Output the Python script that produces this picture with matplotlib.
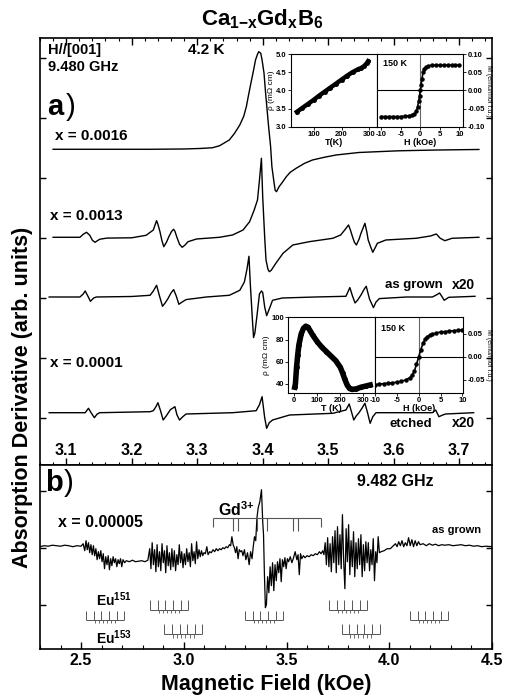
import matplotlib
matplotlib.use("Agg")
import matplotlib.pyplot as plt
from matplotlib.ticker import MultipleLocator, FormatStrFormatter
import numpy as np

plt.rcParams["font.family"] = ["Liberation Sans", "DejaVu Sans"]
plt.rcParams["font.weight"] = "bold"
plt.rcParams["axes.labelweight"] = "bold"
plt.rcParams["axes.unicode_minus"] = False
plt.rcParams["mathtext.fontset"] = "custom"
plt.rcParams["mathtext.rm"] = "Liberation Sans:bold"
plt.rcParams["mathtext.bf"] = "Liberation Sans:bold"
plt.rcParams["mathtext.it"] = "Liberation Sans:bold"

# ---------------- 数据: (a) 4.2 K 谱线 (磁场 kOe, 信号 arb.) ----------------
curve_0016 = [
    (3.080, 0.0), (3.150, 0.0), (3.228, 0.0), (3.280, 0.03), (3.304, 0.08), (3.323, 0.15),
    (3.334, 0.35), (3.349, 0.93), (3.357, 1.6), (3.365, 2.43), (3.371, 3.3), (3.375, 4.26),
    (3.378, 5.3), (3.382, 6.63), (3.386, 7.9), (3.389, 8.93), (3.392, 9.5), (3.394, 9.76),
    (3.397, 9.6), (3.399, 8.93), (3.402, 7.6), (3.404, 5.93), (3.407, 3.7), (3.409, 2.26),
    (3.412, 0.3), (3.414, -1.74), (3.417, -3.2), (3.419, -4.1), (3.421, -4.24), (3.425, -3.74),
    (3.430, -3.3), (3.436, -2.74), (3.442, -2.3), (3.451, -1.90), (3.464, -1.4), (3.476, -1.07),
    (3.494, -0.8), (3.512, -0.57), (3.547, -0.32), (3.608, -0.15), (3.669, -0.07), (3.730, -0.02),
]
curve_0013 = [
    (3.080, 0.0), (3.121, 0.0), (3.126, 0.3), (3.131, 0.5), (3.136, 0.2), (3.140, -0.3),
    (3.144, -0.5), (3.151, -0.2), (3.162, -0.08), (3.200, -0.05), (3.222, 0.2), (3.233, 0.73),
    (3.236, 1.3), (3.238, 1.66), (3.240, 1.3), (3.243, 0.6), (3.246, -0.3), (3.249, -0.94),
    (3.253, -0.5), (3.257, 0.1), (3.261, 0.6), (3.264, 0.8), (3.266, 0.6), (3.269, 0.0),
    (3.273, -0.7), (3.277, -1.0), (3.281, -0.8), (3.286, -0.44), (3.299, -0.17), (3.334, 0.0),
    (3.354, 0.23), (3.370, 0.73), (3.380, 1.56), (3.387, 2.73), (3.392, 3.73), (3.395, 5.7),
    (3.398, 7.9), (3.400, 4.0), (3.403, 0.0), (3.405, -2.27), (3.408, -3.2), (3.410, -3.44),
    (3.413, -3.3), (3.420, -2.6), (3.431, -1.6), (3.446, -0.77), (3.471, -0.44), (3.507, -0.1),
    (3.519, 0.23), (3.526, 0.8), (3.531, 1.23), (3.534, 0.7), (3.537, 0.06), (3.540, -0.5),
    (3.543, -0.77), (3.547, -0.2), (3.550, 0.4), (3.556, 1.4), (3.559, 0.5), (3.561, -0.27),
    (3.565, -1.0), (3.568, -1.5), (3.572, -1.0), (3.575, -0.6), (3.588, -0.27), (3.634, -0.1),
    (3.656, 0.13), (3.665, 0.33), (3.671, -0.1), (3.678, -0.34), (3.689, -0.1), (3.730, 0.0),
]
curve_grown = [
    (3.074, 0.0), (3.121, 0.0), (3.126, 0.3), (3.129, 0.6), (3.133, 0.1), (3.137, -0.43),
    (3.142, -0.1), (3.146, 0.0), (3.200, 0.05), (3.228, 0.17), (3.233, 0.6), (3.238, 1.17),
    (3.242, 0.2), (3.247, -0.93), (3.251, -0.6), (3.255, -0.2), (3.260, 0.4), (3.264, 0.74),
    (3.268, 0.1), (3.272, -0.73), (3.277, -0.5), (3.283, -0.26), (3.314, 0.0), (3.349, 0.17),
    (3.365, 0.67), (3.372, 1.5), (3.376, 2.8), (3.379, 4.07), (3.381, 1.37), (3.384, -2.0),
    (3.386, -4.06), (3.388, -3.6), (3.391, -2.0), (3.395, 0.3), (3.398, 0.6), (3.400, 0.45),
    (3.403, -1.0), (3.406, -1.87), (3.410, -1.2), (3.415, -0.33), (3.430, -0.1), (3.480, 0.0),
    (3.527, 0.07), (3.530, 0.5), (3.533, 0.94), (3.537, 0.1), (3.541, -0.6), (3.545, -0.3),
    (3.550, 0.2), (3.555, 0.8), (3.558, 1.07), (3.563, -0.2), (3.569, -1.06), (3.573, -0.5),
    (3.578, -0.16), (3.620, 0.0), (3.659, 0.0), (3.665, 0.2), (3.670, 0.4), (3.674, 0.0),
    (3.677, -0.33), (3.684, -0.03), (3.724, 0.07),
]
curve_etched = [
    (3.074, 0.0), (3.129, 0.0), (3.134, 0.44), (3.138, 0.0), (3.143, -0.5), (3.147, -0.15),
    (3.151, 0.0), (3.228, 0.1), (3.233, 0.2), (3.237, 0.6), (3.240, 1.0), (3.244, 0.2),
    (3.248, -0.73), (3.253, -0.3), (3.259, 0.3), (3.266, 0.6), (3.269, -0.2), (3.273, -0.73),
    (3.278, -0.4), (3.283, -0.13), (3.354, 0.0), (3.390, 0.2), (3.395, 0.8), (3.399, 1.6),
    (3.403, -0.5), (3.406, -1.56), (3.410, -1.0), (3.415, -0.73), (3.441, -0.23), (3.507, -0.06),
    (3.527, 0.27), (3.532, 0.87), (3.535, 0.2), (3.539, -0.73), (3.543, -0.3), (3.547, 0.0),
    (3.552, 0.5), (3.556, 0.94), (3.560, 0.0), (3.564, -1.06), (3.568, -0.4), (3.573, 0.0),
    (3.659, 0.0), (3.664, 0.27), (3.669, -0.4), (3.674, -0.25), (3.679, -0.13), (3.722, 0.0),
]
a_curves = [curve_0016, curve_0013, curve_grown, curve_etched]
a_offsets = [31.57, 22.77, 16.80, 5.23]
a_ticks = [3.1, 3.2, 3.3, 3.4, 3.5, 3.6, 3.7]

# ---------------- 数据: (b) x = 0.00005 谱线 ----------------
b_points = [
    (2.30, 0.0), (2.32, 0.1), (2.34, 0.05), (2.36, 0.15), (2.38, 0.1), (2.40, 0.05), (2.42, 0.15),
    (2.44, 0.1), (2.46, 0.0), (2.48, 0.1), (2.50, 0.05),
    (2.510, 0.3), (2.518, -0.4), (2.524, 0.6), (2.530, -0.3), (2.536, 0.4), (2.542, -0.6),
    (2.548, 0.2), (2.554, -0.8), (2.560, 0.1), (2.566, -0.9), (2.572, -0.2), (2.578, -1.3),
    (2.584, -0.5), (2.590, -1.2), (2.596, -0.4), (2.602, -1.5), (2.608, -0.7), (2.614, -2.2),
    (2.620, -1.0), (2.626, -1.8), (2.632, -0.9), (2.638, -2.3), (2.644, -1.2), (2.650, -1.9),
    (2.656, -1.0), (2.662, -1.6), (2.668, -1.2), (2.674, -2.0), (2.680, -1.3), (2.686, -1.7),
    (2.692, -1.2), (2.698, -2.0), (2.704, -1.3), (2.712, -1.6),
    (2.720, -1.4), (2.735, -1.5), (2.750, -1.35), (2.765, -1.5), (2.780, -1.45), (2.795, -1.4),
    (2.810, -1.5), (2.825, -1.35),
    (2.834, -0.2), (2.840, -2.2), (2.846, 0.4), (2.852, -1.8), (2.858, -0.3), (2.864, -2.5),
    (2.870, 0.2), (2.876, -2.0), (2.882, -0.5), (2.888, -2.4), (2.894, 0.3), (2.900, -1.6),
    (2.906, -0.4), (2.912, -2.6), (2.918, 0.1), (2.924, -1.9), (2.930, -0.6), (2.936, -2.3),
    (2.942, -0.2), (2.948, -2.0), (2.954, -0.4), (2.960, -2.4), (2.966, -0.8), (2.972, -1.8),
    (2.978, 0.2), (2.984, -1.6), (2.990, -0.5), (2.996, -2.1), (3.002, -0.7), (3.008, -1.8),
    (3.014, -0.2), (3.020, -1.5), (3.026, -0.6), (3.032, -2.0), (3.038, 0.3), (3.044, -1.4),
    (3.050, -0.5), (3.056, -1.7), (3.062, 0.5), (3.068, -1.2), (3.074, -0.3), (3.080, -1.0),
    (3.086, -0.4), (3.092, -0.9), (3.098, -0.6),
    (3.105, -0.7), (3.112, 0.0), (3.118, -0.8), (3.126, -0.5), (3.134, -0.6), (3.142, -0.3),
    (3.150, -0.5), (3.158, -0.2), (3.166, -0.4), (3.174, -0.2), (3.182, -0.3), (3.190, -0.1),
    (3.198, -0.2), (3.206, 0.0), (3.214, -0.1), (3.222, 0.2), (3.228, 0.1),
    (3.234, 1.0), (3.240, 0.2), (3.246, -0.1), (3.252, -0.6), (3.258, 0.0), (3.264, -1.2),
    (3.270, -0.3), (3.276, -0.5), (3.282, -0.4), (3.288, -0.9), (3.295, -0.3), (3.302, -1.3),
    (3.310, -0.6), (3.318, -1.8), (3.325, -0.5), (3.332, -1.2), (3.338, 0.0), (3.344, 1.0),
    (3.350, 0.6), (3.356, 2.9), (3.362, 3.9), (3.370, 4.5), (3.378, 5.7), (3.384, 2.5),
    (3.388, 1.2), (3.392, -2.5), (3.397, -6.1),
    (3.402, -5.8), (3.408, -3.0), (3.414, -4.6), (3.420, -2.0), (3.426, -3.9), (3.432, -1.6),
    (3.438, -4.4), (3.444, -1.8), (3.450, -3.4), (3.456, -1.5), (3.462, -2.6), (3.468, -1.2),
    (3.474, -3.5), (3.480, -1.3), (3.486, -2.0), (3.492, -1.1), (3.498, -2.2), (3.504, -1.2),
    (3.510, -1.5), (3.518, -1.0), (3.526, -1.6), (3.534, -1.1), (3.542, -0.5), (3.550, -1.3),
    (3.556, -0.8), (3.562, -2.8), (3.568, -0.7), (3.574, -1.2), (3.582, -0.9), (3.590, -1.1),
    (3.600, -0.9), (3.610, -1.0), (3.620, -0.8), (3.630, -0.9), (3.640, -0.7), (3.650, -0.8),
    (3.660, -0.5), (3.668, -0.7), (3.676, -0.4),
    (3.682, -0.8), (3.688, 0.4), (3.694, -1.8), (3.700, 0.9), (3.706, -2.0), (3.712, 0.3),
    (3.718, -2.5), (3.724, 1.0), (3.730, -1.6), (3.736, 1.6), (3.742, -2.6), (3.748, 2.0),
    (3.754, -1.8), (3.760, 1.2), (3.766, -2.2), (3.772, 3.2), (3.778, -1.4), (3.784, -4.2),
    (3.790, 1.8), (3.796, -1.5), (3.802, 2.2), (3.808, -2.8), (3.814, 0.6), (3.820, -2.0),
    (3.826, 1.5), (3.832, -3.0), (3.838, 0.4), (3.844, -2.2), (3.850, 0.8), (3.856, -1.8),
    (3.862, 1.2), (3.868, -3.0), (3.874, 0.2), (3.880, -2.4), (3.886, 0.5), (3.892, -1.6),
    (3.898, 0.4), (3.904, -2.4), (3.910, -0.3), (3.916, -1.8), (3.922, 0.8), (3.928, -3.4),
    (3.934, -0.5), (3.940, -1.6), (3.946, 1.0), (3.952, -0.6),
    (3.960, -0.5), (3.975, -0.4), (3.990, -0.2), (4.005, -0.2), (4.020, 0.1),
    (4.030, 0.3), (4.038, 0.0), (4.046, 0.5), (4.054, 0.1), (4.062, 0.6), (4.070, 0.0),
    (4.078, 0.4), (4.086, 0.1), (4.094, 0.9), (4.102, 0.1), (4.110, 0.7), (4.118, 0.0),
    (4.126, 0.6), (4.134, 0.1), (4.142, 0.5), (4.150, 0.2),
    (4.165, 0.3), (4.180, 0.1), (4.195, 0.3), (4.210, 0.15), (4.225, 0.25), (4.240, 0.1),
    (4.255, 0.2), (4.270, 0.15), (4.290, 0.2), (4.310, 0.1), (4.330, 0.15), (4.350, 0.2),
    (4.370, 0.1), (4.390, 0.15), (4.410, 0.05), (4.430, 0.1), (4.450, 0.0), (4.470, 0.05),
    (4.500, 0.0),
]
b_offset = 10.23
b_ticks = [2.5, 3.0, 3.5, 4.0, 4.5]

# Gd3+ 谱线位置 (kOe)
gd_span = (3.143, 3.666)
gd_lines = [3.238, 3.266, 3.354, 3.403, 3.530, 3.554]
# Eu 超精细六重线中心 (kOe)
eu_row_upper = [2.929, 3.800]
eu_row_mid = [2.617, 3.391, 4.194]
eu_row_lower = [2.998, 3.860]
eu_long = [-0.0925, -0.0555, -0.0185, 0.0185, 0.0555, 0.0925]
eu_short = [-0.05, -0.03, -0.01, 0.01, 0.03, 0.05]

# ---------------- 数据: 插图 ----------------
t_top = [40, 60, 80, 100, 120, 140, 160, 180, 200, 220, 240, 260, 270, 280, 290, 295]
rho_top = [3.41, 3.52, 3.63, 3.74, 3.86, 3.97, 4.08, 4.19, 4.30, 4.41, 4.51, 4.59, 4.62,
           4.67, 4.75, 4.81]
h_top = [-10, -9, -8, -7, -6, -5, -4, -3, -2, -1.5, -1, -0.7, -0.4, -0.2, 0, 0.2, 0.4, 0.7,
         1, 1.5, 2, 3, 4, 5, 6, 7, 8, 9, 10]
m_top = [-0.072, -0.072, -0.072, -0.072, -0.072, -0.072, -0.071, -0.070, -0.068, -0.065,
         -0.058, -0.045, -0.028, -0.014, 0.0, 0.016, 0.032, 0.050, 0.060, 0.066, 0.068,
         0.070, 0.070, 0.070, 0.070, 0.070, 0.070, 0.070, 0.070]

t_low = [2, 5, 10, 15, 20, 30, 40, 50, 60, 80, 100, 120, 140, 160, 180, 200, 210, 220, 230,
         240, 250, 270, 290, 310, 330]
rho_low = [37, 40, 55, 66, 75, 85, 90, 92, 91, 84, 78, 73, 69, 65, 61, 55, 50, 44, 39, 36,
           35, 35.5, 37, 38, 39]
h_low = [-10, -9, -8, -7, -6, -5, -4, -3, -2, -1.5, -1, -0.5, 0, 0.5, 1, 1.5, 2, 2.5, 3, 4,
         5, 6, 7, 8, 9, 10]
m_low = [-0.060, -0.059, -0.058, -0.057, -0.056, -0.055, -0.053, -0.050, -0.045, -0.040,
         -0.031, -0.016, 0.0, 0.016, 0.030, 0.039, 0.044, 0.047, 0.049, 0.052, 0.054,
         0.055, 0.056, 0.057, 0.058, 0.059]

# ====================== 绘图 ======================
fig = plt.figure(figsize=(5.16, 6.98), dpi=100)
ax_a = fig.add_axes([0.0775, 0.3338, 0.876, 0.6118])
ax_b = fig.add_axes([0.0775, 0.0702, 0.876, 0.2636])

# (a)
for pts, off in zip(a_curves, a_offsets):
    xs, ys = zip(*pts)
    ax_a.plot(xs, np.array(ys) + off, color="black", lw=1.0)
ax_a.set_xlim(3.06, 3.75)
ax_a.set_ylim(0, 42.7)
ax_a.set_xticks(a_ticks)
ax_a.xaxis.set_major_formatter(FormatStrFormatter("%.1f"))
ax_a.xaxis.set_minor_locator(MultipleLocator(0.02))
ax_a.set_yticks(np.arange(4.7, 42, 6.0))
ax_a.tick_params(axis="x", which="both", direction="in", top=True, labelsize=11.5, pad=-16)
ax_a.tick_params(axis="x", which="major", length=5, width=1)
ax_a.tick_params(axis="x", which="minor", length=2.5, width=0.8)
ax_a.tick_params(axis="y", direction="in", left=True, right=True, labelleft=False,
                 length=4, width=1)

ta = dict(transform=ax_a.transAxes, fontweight="bold", va="center")
ax_a.text(0.018, 0.972, "H//[001]", fontsize=10.5, **ta)
ax_a.text(0.018, 0.932, "9.480 GHz", fontsize=10.5, **ta)
ax_a.text(0.327, 0.972, "4.2 K", fontsize=11, **ta)
ax_a.text(0.015, 0.838, "a", fontsize=21, **ta)
ax_a.text(0.056, 0.838, ")", fontsize=21, transform=ax_a.transAxes, fontweight="normal",
          va="center")
ax_a.text(0.033, 0.770, "x = 0.0016", fontsize=11, **ta)
ax_a.text(0.022, 0.583, "x = 0.0013", fontsize=11, **ta)
ax_a.text(0.022, 0.239, "x = 0.0001", fontsize=11, **ta)
ax_a.text(0.763, 0.4215, "as grown", fontsize=9.5, **ta)
ax_a.text(0.962, 0.4215, "x20", fontsize=10, ha="right", transform=ax_a.transAxes,
          fontweight="bold", va="center")
ax_a.text(0.774, 0.096, "etched", fontsize=9.5, **ta)
ax_a.text(0.962, 0.098, "x20", fontsize=10, ha="right", transform=ax_a.transAxes,
          fontweight="bold", va="center")

# (b)
bx, by = zip(*b_points)
ax_b.plot(bx, np.array(by) + b_offset, color="black", lw=0.9)
ax_b.set_xlim(2.3, 4.5)
ax_b.set_ylim(0, 18.4)
ax_b.set_xticks(b_ticks)
ax_b.xaxis.set_major_formatter(FormatStrFormatter("%.1f"))
ax_b.xaxis.set_minor_locator(MultipleLocator(0.1))
ax_b.set_yticks([4.4, 10.1, 15.8])
ax_b.tick_params(axis="x", which="both", direction="in", top=False, labelsize=11.5, pad=3)
ax_b.tick_params(axis="x", which="major", length=5, width=1)
ax_b.tick_params(axis="x", which="minor", length=3, width=0.8)
ax_b.tick_params(axis="y", direction="in", left=True, right=True, labelleft=False,
                 length=4, width=1)
ax_b.set_xlabel("Magnetic Field (kOe)", fontsize=15.5, fontweight="bold", labelpad=4)

comb_color = "#555555"
# Gd3+ 梳
ax_b.hlines(13.07, gd_span[0], gd_span[1], color=comb_color, lw=0.8)
ax_b.vlines(list(gd_span), 12.23, 13.07, color=comb_color, lw=0.8)
ax_b.vlines(gd_lines, 11.8, 13.07, color=comb_color, lw=0.8)
ax_b.text(3.165, 13.9, "Gd$^{3{+}}$", fontsize=11.5, fontweight="bold", va="center")

# Eu 梳
for centers, base, top, low in [(eu_row_upper, 3.9, 4.9, 3.57),
                                (eu_row_mid, 2.9, 3.8, 2.57),
                                (eu_row_lower, 1.47, 2.47, 1.15)]:
    for c in centers:
        ax_b.hlines(base, c + eu_long[0], c + eu_long[-1], color=comb_color, lw=0.7)
        ax_b.vlines(c + np.array(eu_long), base, top, color=comb_color, lw=0.7)
        ax_b.vlines(c + np.array(eu_short), low, base, color=comb_color, lw=0.6)

tb = dict(transform=ax_b.transAxes, fontweight="bold", va="center")
ax_b.text(0.011, 0.902, "b", fontsize=21, **tb)
ax_b.text(0.052, 0.902, ")", fontsize=21, transform=ax_b.transAxes, fontweight="normal",
          va="center")
ax_b.text(0.701, 0.908, "9.482 GHz", fontsize=11.5, **tb)
ax_b.text(0.040, 0.690, "x = 0.00005", fontsize=11.5, **tb)
ax_b.text(0.868, 0.647, "as grown", fontsize=8, **tb)
ax_b.text(0.125, 0.270, "Eu$^{151}$", fontsize=10, **tb)
ax_b.text(0.125, 0.062, "Eu$^{153}$", fontsize=10, **tb)

# 纵轴标签与标题
fig.text(0.043, 0.43, "Absorption Derivative (arb. units)", rotation=90, fontsize=15.5,
         fontweight="bold", ha="center", va="center")
fig.text(0.508, 0.972, "Ca$_{1{-}x}$Gd$_{x}$B$_{6}$", fontsize=16, fontweight="bold",
         ha="center", va="center")


def style_inset(ax):
    ax.tick_params(labelsize=5.5, length=2, width=0.6, pad=1)
    for s in ax.spines.values():
        s.set_linewidth(0.8)


# 上插图
ax_t1 = fig.add_axes([0.5634, 0.8185, 0.1678, 0.1037])
ax_t1.plot(t_top, rho_top, color="black", lw=3.2, marker="o", ms=2.5)
ax_t1.set_xlim(18, 328)
ax_t1.set_ylim(3.0, 5.0)
ax_t1.set_xticks([100, 200, 300])
ax_t1.set_yticks([3.0, 3.5, 4.0, 4.5, 5.0])
ax_t1.yaxis.set_major_formatter(FormatStrFormatter("%.1f"))
ax_t1.set_xlabel("T(K)", fontsize=6.5, labelpad=0)
ax_t1.set_ylabel("ρ (mΩ cm)", fontsize=6, labelpad=1, fontweight="normal")
style_inset(ax_t1)

ax_t2 = fig.add_axes([0.7312, 0.8185, 0.1667, 0.1037])
ax_t2.axvline(0, color="#666666", lw=0.8)
ax_t2.axhline(0, color="black", lw=0.8)
ax_t2.plot(h_top, m_top, color="black", lw=1.2, marker="o", ms=2.2)
ax_t2.set_xlim(-11, 11)
ax_t2.set_ylim(-0.1, 0.1)
ax_t2.set_xticks([-10, -5, 0, 5, 10])
ax_t2.set_yticks([-0.10, -0.05, 0.0, 0.05, 0.10])
ax_t2.yaxis.set_major_formatter(FormatStrFormatter("%.2f"))
ax_t2.yaxis.tick_right()
ax_t2.yaxis.set_label_position("right")
ax_t2.set_xlabel("H (kOe)", fontsize=6.5, labelpad=0)
ax_t2.set_ylabel("M (emu/mol f.u.)", fontsize=5, rotation=270, labelpad=5,
                 fontweight="normal")
ax_t2.text(0.07, 0.84, "150 K", transform=ax_t2.transAxes, fontsize=6.5, fontweight="bold")
style_inset(ax_t2)

# 下插图
ax_l1 = fig.add_axes([0.5587, 0.4365, 0.168, 0.1089])
ax_l1.plot(t_low, rho_low, color="black", lw=4, marker="o", ms=2.5)
ax_l1.set_xlim(-26, 351)
ax_l1.set_ylim(31.5, 100)
ax_l1.set_xticks([0, 100, 200, 300])
ax_l1.set_yticks([40, 60, 80, 100])
ax_l1.set_xlabel("T (K)", fontsize=6.5, labelpad=0)
ax_l1.set_ylabel("ρ (mΩ cm)", fontsize=6, labelpad=1, fontweight="normal")
style_inset(ax_l1)

ax_l2 = fig.add_axes([0.7267, 0.4365, 0.1711, 0.1089])
ax_l2.axvline(0, color="#666666", lw=0.8)
ax_l2.axhline(0, color="black", lw=0.8)
ax_l2.plot(h_low, m_low, color="black", lw=1.2, marker="o", ms=2.2)
ax_l2.set_xlim(-10, 10.2)
ax_l2.set_ylim(-0.079, 0.086)
ax_l2.set_xticks([-10, -5, 0, 5, 10])
ax_l2.set_yticks([-0.05, 0.0, 0.05])
ax_l2.yaxis.set_major_formatter(FormatStrFormatter("%.2f"))
ax_l2.yaxis.tick_right()
ax_l2.yaxis.set_label_position("right")
ax_l2.set_xlabel("H (kOe)", fontsize=6.5, labelpad=0)
ax_l2.set_ylabel("M (emu/mol f.u.)", fontsize=5, rotation=270, labelpad=5,
                 fontweight="normal")
ax_l2.text(0.07, 0.82, "150 K", transform=ax_l2.transAxes, fontsize=6.5, fontweight="bold")
style_inset(ax_l2)

for ax in (ax_a, ax_b):
    for s in ax.spines.values():
        s.set_linewidth(1.2)

fig.savefig("out.png", dpi=100)
